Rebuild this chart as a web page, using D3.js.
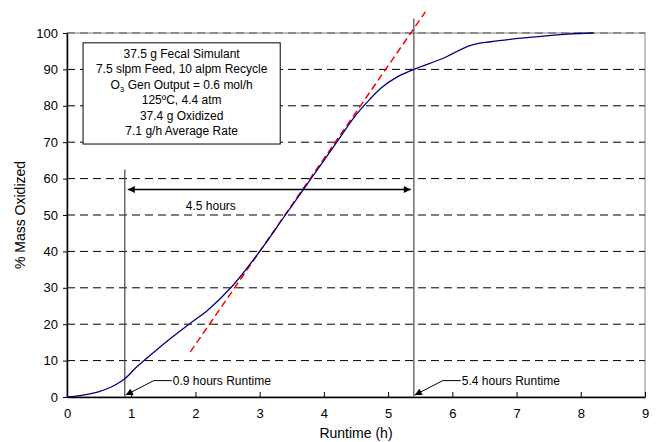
<!DOCTYPE html>
<html>
<head>
<meta charset="utf-8">
<script src="https://cdn.jsdelivr.net/npm/d3@7"></script>
<style>
    body { margin: 0; background: #fff; }
    text { font-family: "Liberation Sans", Arial, sans-serif; fill: #000; }
</style>
</head>
<body>
<svg id="chart" width="660" height="442"></svg>
<script>
// measured curve: runtime (h) vs % mass oxidized
var runtime = [0, 0.2, 0.5, 0.75, 0.9, 1.1, 1.2, 1.5, 1.9, 2.2, 2.55, 3.0, 3.4, 3.8, 4.2, 4.5, 4.7, 4.9, 5.15, 5.4, 5.85, 6.3, 6.6, 7.2, 7.8, 8.2];
var oxidized = [0, 0.4, 1.5, 3.3, 5, 8.5, 10, 14.5, 20, 24, 30, 40, 50, 60, 70, 77.5, 81.5, 85, 88, 90, 93, 96.7, 97.6, 98.8, 99.7, 100];

// linear fit (red dashed)
var fitX = [1.92, 5.58];
var fitY = [12.4, 105.8];

var xTicks = [0, 1, 2, 3, 4, 5, 6, 7, 8, 9];
var yTicks = [0, 10, 20, 30, 40, 50, 60, 70, 80, 90, 100];

var boxLines = ["37.5 g Fecal Simulant", "7.5 slpm Feed, 10 alpm Recycle", "O3 Gen Output = 0.6 mol/h",
    "125ºC, 4.4 atm", "37.4 g Oxidized", "7.1 g/h Average Rate"];

var startTime = 0.9, endTime = 5.4;

var svg = d3.select("#chart");
var margin = {left: 67, right: 15, top: 33, bottom: 45};
var width = 660 - margin.left - margin.right;
var height = 442 - margin.top - margin.bottom;

var x = d3.scaleLinear().domain([0, 9]).range([margin.left, margin.left + width]);
var y = d3.scaleLinear().domain([0, 100]).range([margin.top + height, margin.top]);

var defs = svg.append("defs");
defs.append("marker")
    .attr("id", "arr")
    .attr("viewBox", "0 0 10 10")
    .attr("refX", 10).attr("refY", 5)
    .attr("markerWidth", 9).attr("markerHeight", 7)
    .attr("markerUnits", "userSpaceOnUse")
    .attr("orient", "auto-start-reverse")
    .append("path").attr("d", "M0,0L10,5L0,10z").attr("fill", "#000");

// frame (right / top)
svg.append("rect")
    .attr("x", x(0)).attr("y", y(100))
    .attr("width", x(9) - x(0)).attr("height", y(0) - y(100))
    .attr("fill", "none").attr("stroke", "#999").attr("stroke-width", 1.2);

// horizontal dashed grid
svg.append("g").selectAll("line")
    .data(yTicks.slice(1))
    .enter().append("line")
    .attr("x1", x(0)).attr("x2", x(9))
    .attr("y1", function (d) { return y(d); })
    .attr("y2", function (d) { return y(d); })
    .attr("stroke", function (d) { return d === 100 ? "#555" : "#000"; })
    .attr("stroke-width", 1)
    .attr("stroke-dasharray", "8,5");

// axes
var xAxis = svg.append("g")
    .attr("transform", "translate(0," + y(0) + ")")
    .call(d3.axisBottom(x).tickValues(xTicks).tickSizeInner(-5).tickSizeOuter(0).tickPadding(12));
var yAxis = svg.append("g")
    .attr("transform", "translate(" + x(0) + ",0)")
    .call(d3.axisLeft(y).tickValues(yTicks).tickSizeInner(4).tickSizeOuter(0).tickPadding(5));
[xAxis, yAxis].forEach(function (ax) {
    ax.select(".domain").attr("stroke", "#000").attr("stroke-width", 1.5);
    ax.selectAll(".tick line").attr("stroke", "#000");
    ax.selectAll("text").style("font-size", "13px").style("font-family", "Liberation Sans, Arial, sans-serif");
});

// axis titles
svg.append("text")
    .attr("x", x(4.5)).attr("y", 438)
    .attr("text-anchor", "middle")
    .style("font-size", "14px")
    .text("Runtime (h)");
svg.append("text")
    .attr("transform", "translate(25," + y(50) + ") rotate(-90)")
    .attr("text-anchor", "middle")
    .style("font-size", "14px")
    .text("% Mass Oxidized");

// vertical markers
svg.append("line")
    .attr("x1", x(startTime)).attr("x2", x(startTime))
    .attr("y1", y(62.5)).attr("y2", y(0))
    .attr("stroke", "#444").attr("stroke-width", 1.2);
svg.append("line")
    .attr("x1", x(endTime)).attr("x2", x(endTime))
    .attr("y1", y(104)).attr("y2", y(0))
    .attr("stroke", "#777").attr("stroke-width", 1.6);

// double arrow
svg.append("line")
    .attr("x1", x(startTime) + 3).attr("x2", x(endTime) - 3)
    .attr("y1", y(57)).attr("y2", y(57))
    .attr("stroke", "#000").attr("stroke-width", 1.5)
    .attr("marker-start", "url(#arr)").attr("marker-end", "url(#arr)");
svg.append("text")
    .attr("x", x(2.24)).attr("y", y(51.5))
    .attr("text-anchor", "middle")
    .style("font-size", "12px")
    .text("4.5 hours");

// runtime call-outs
[startTime, endTime].forEach(function (t) {
    var bx = x(t) + 1, by = y(0) - 2;
    var kx = x(t) + 29, ky = y(4.5);
    svg.append("path")
        .attr("d", "M" + (kx + 18) + "," + ky + "L" + kx + "," + ky + "L" + bx + "," + by)
        .attr("fill", "none").attr("stroke", "#000").attr("stroke-width", 1)
        .attr("marker-end", "url(#arr)");
    svg.append("text")
        .attr("x", kx + 19).attr("y", ky + 4)
        .style("font-size", "12px")
        .text(t + " hours Runtime");
});

// fit line
svg.append("line")
    .attr("x1", x(fitX[0])).attr("y1", y(fitY[0]))
    .attr("x2", x(fitX[1])).attr("y2", y(fitY[1]))
    .attr("stroke", "#ff0000").attr("stroke-width", 1.5)
    .attr("stroke-dasharray", "7,4");

// measured curve
var line = d3.line()
    .x(function (d) { return x(d[0]); })
    .y(function (d) { return y(d[1]); })
    .curve(d3.curveMonotoneX);
svg.append("path")
    .datum(d3.zip(runtime, oxidized))
    .attr("d", line)
    .attr("fill", "none")
    .attr("stroke", "#000080")
    .attr("stroke-width", 1.3);

// conditions box
var bx0 = 0.25, bx1 = 3.32, byTop = 97.3, byBot = 69.5;
svg.append("rect")
    .attr("x", x(bx0)).attr("y", y(byTop))
    .attr("width", x(bx1) - x(bx0)).attr("height", y(byBot) - y(byTop))
    .attr("fill", "#fff").attr("stroke", "#000").attr("stroke-width", 1);
var boxText = svg.append("text")
    .attr("text-anchor", "middle")
    .style("font-size", "12px");
boxLines.forEach(function (s, i) {
    var ty = y(byTop) + 15 + i * 15.5;
    if (s.indexOf("O3") === 0) {
        var t = boxText.append("tspan").attr("x", (x(bx0) + x(bx1)) / 2).attr("y", ty);
        t.append("tspan").text("O");
        t.append("tspan").attr("dy", 3).style("font-size", "8px").text("3");
        t.append("tspan").attr("dy", -3).text(s.slice(2));
    } else {
        boxText.append("tspan").attr("x", (x(bx0) + x(bx1)) / 2).attr("y", ty).text(s);
    }
});
</script>
</body>
</html>
